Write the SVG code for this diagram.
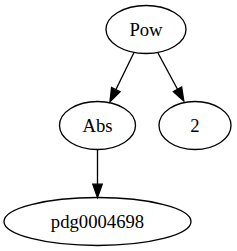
<svg xmlns="http://www.w3.org/2000/svg" width="237" height="251" viewBox="0 0 237 251">
<style>
.n ellipse{fill:none;stroke:#000;stroke-width:1.33}
.n text{font-family:"Liberation Serif","Times New Roman",serif;font-size:18.67px;text-anchor:middle;fill:#000}
.e path{fill:none;stroke:#000;stroke-width:1.33}
</style>
<defs>
<marker id="ah" markerUnits="userSpaceOnUse" markerWidth="16" markerHeight="12" refX="0" refY="0" viewBox="0 -6 16 12" orient="auto" overflow="visible">
<path d="M0,-4.7 L13.3,0 L0,4.7 Z" fill="#000" stroke="#000" stroke-width="1.33"/>
</marker>
</defs>
<rect width="237" height="251" fill="#fff"/>
<g id="edges" class="e">
<path d="M134,52.5 L115.8,89.7" marker-end="url(#ah)"/>
<path d="M157.7,52.5 L177.5,89.3" marker-end="url(#ah)"/>
<path d="M97.5,149.5 L97.5,184.2" marker-end="url(#ah)"/>
</g>
<g id="Pow" class="n"><ellipse cx="146" cy="29.5" rx="40" ry="24"/><text x="146" y="35.5">Pow</text></g>
<g id="Abs" class="n"><ellipse cx="97.5" cy="125.5" rx="38" ry="24"/><text x="97.5" y="131.5">Abs</text></g>
<g id="n2" class="n"><ellipse cx="195" cy="125.5" rx="36" ry="24"/><text x="195" y="131.5">2</text></g>
<g id="pdg0004698" class="n"><ellipse cx="97.5" cy="221.5" rx="93.5" ry="24"/><text x="97.5" y="227.5">pdg0004698</text></g>
</svg>
